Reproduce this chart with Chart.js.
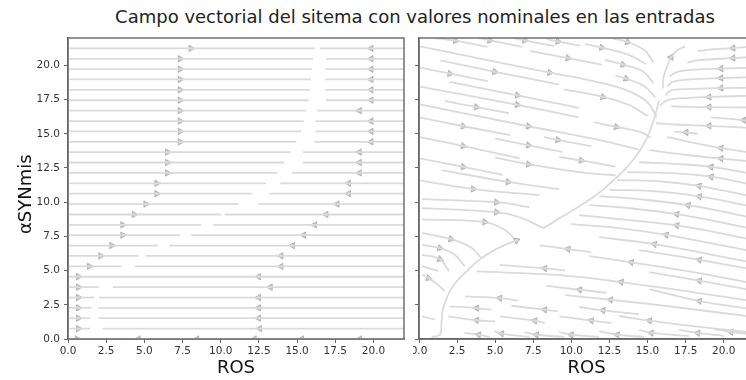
<!DOCTYPE html>
<html>
<head>
<meta charset="utf-8">
<script src="https://cdn.jsdelivr.net/npm/chart.js@4/dist/chart.umd.min.js"></script>
<style>
  html, body { margin: 0; padding: 0; background: #fff; overflow: hidden; }
  body { width: 746px; height: 380px; position: relative; }
  #title { position: absolute; left: 0; top: 6px; width: 830px; text-align: center;
           font: 18px 'DejaVu Sans'; color: #222; white-space: nowrap; }
  #left { position: absolute; left: 0; top: 0; }
  #right { position: absolute; left: 413px; top: 0; }
</style>
</head>
<body>
<div id="title">Campo vectorial del sitema con valores nominales en las entradas</div>
<canvas id="left" width="410" height="380"></canvas>
<canvas id="right" width="346" height="380"></canvas>
<script>
// ejes
const tickValues = [0, 2.5, 5, 7.5, 10, 12.5, 15, 17.5, 20];
const xLabel = 'ROS';
const yLabel = 'αSYNmis';

// panel izquierdo: lineas horizontales, hueco donde cambia el sentido
const levelY = [0.0, 0.76, 1.52, 2.28, 3.03, 3.79, 4.55, 5.31, 6.07, 6.83, 7.59, 8.34, 9.10, 9.86, 10.62,
  11.38, 12.14, 12.90, 13.66, 14.41, 15.17, 15.93, 16.69, 17.45, 18.21, 18.97, 19.72, 20.48, 21.24];
const gapFrom = [null, 1.44, 1.44, 1.55, 1.73, 2.03, null, 3.48, 4.61, 5.88, 7.34, 8.70, 10.01, 11.17, 12.04,
  12.96, 13.68, 14.16, 14.56, 14.95, 15.25, 15.43, 15.60, 15.75, 15.85, 15.90, 15.98, 16.04, 16.15];
const gapTo = [null, 2.27, 1.99, 1.99, 2.03, 2.93, null, 4.39, 5.11, 6.62, 8.07, 9.53, 10.25, 12.48, 13.20,
  13.90, 14.67, 15.39, 15.39, 16.13, 16.20, 16.20, 16.30, 16.90, 16.85, 16.85, 16.85, 16.90, 16.48];
const arrowRightX = [0.60, 0.68, 0.68, 0.68, 0.68, 0.68, 0.68, 1.40, 2.14, 2.86, 3.58, 3.58, 4.33, 5.09, 5.81,
  5.81, 6.51, 6.51, 6.51, 7.34, 7.34, 7.34, 7.34, 7.34, 7.34, 7.34, 7.34, 7.34, 8.04];
const arrowLeftX = [4.60, 12.55, 12.48, 12.48, 12.48, 13.25, 12.48, 13.95, 13.95, 14.71, 15.43, 16.15, 16.90, 17.62, 18.38,
  18.38, 19.08, 19.08, 19.08, 19.85, 19.85, 19.85, 19.08, 19.85, 19.85, 19.85, 19.85, 19.85, 19.85];
const bottomLeftArrowX = [8.44, 12.2, 15.3, 19.1];

// panel derecho: lineas de corriente (x, y)
const rightLines = [
  [[1.0,22.0],[2.4,21.8],[4.5,21.35]],
  [[3.9,22.0],[4.65,21.82],[6.8,21.35]],
  [[6.2,22.0],[6.94,21.83],[8.9,21.4]],
  [[8.4,21.92],[9.13,21.75],[10.6,21.42]],
  [[10.9,21.55],[12.0,21.3],[13.8,20.75],[14.9,20.1]],
  [[12.6,22.0],[13.7,21.7],[14.8,21.1],[15.4,20.2]],
  [[7.3,21.05],[9.78,20.53],[12.0,20.05]],
  [[12.2,20.4],[13.39,20.05],[14.7,19.55],[15.4,18.7]],
  [[12.9,19.25],[13.6,19.03],[14.8,18.47],[15.5,17.66]],
  [[0.05,21.39],[4.0,20.5],[8.58,19.47],[11.8,18.76],[13.8,18.1],[15.0,17.3],[15.6,16.2]],
  [[1.4,20.36],[4.98,19.53],[9.2,18.6]],
  [[0.05,19.85],[2.03,19.39],[4.5,18.85]],
  [[2.0,18.8],[6.46,17.81],[10.5,16.9]],
  [[9.5,18.25],[12.08,17.69],[13.8,17.1],[15.0,16.3]],
  [[0.05,18.45],[6.46,17.12],[10.5,16.2]],
  [[1.7,17.4],[3.77,16.95],[5.9,16.5]],
  [[0.05,17.15],[7.19,15.55],[11.8,14.55],[14.4,13.85]],
  [[0.05,16.2],[2.91,15.55],[6.0,14.9]],
  [[8.2,14.75],[9.12,14.55],[11.3,14.1]],
  [[11.5,15.85],[12.96,15.5],[14.6,15.1],[15.2,14.7]],
  [[0.05,14.75],[2.91,14.1],[6.6,13.2]],
  [[5.0,14.65],[7.19,14.16],[9.4,13.68]],
  [[9.2,13.3],[10.65,13.05],[12.9,12.6]],
  [[0.05,13.21],[2.91,12.58],[5.5,12.0]],
  [[5.0,13.25],[7.19,12.77],[10.5,12.2],[12.9,11.95]],
  [[1.5,12.35],[5.85,11.48],[9.2,10.95]],
  [[0.05,11.6],[3.56,10.96],[7.9,10.52]],
  [[0.2,10.22],[5.09,10.0],[7.25,9.64]],
  [[0.2,9.56],[5.09,9.27],[6.6,8.9],[8.17,8.1]],
  [[0.2,8.75],[4.32,8.55],[5.6,8.0],[6.2,7.4]],
  [[0.2,7.75],[2.1,7.3],[3.4,6.7],[4.1,5.9]],
  [[0.2,6.88],[1.37,6.64],[2.3,6.2],[3.0,5.33]],
  [[0.2,6.15],[1.37,5.84],[1.96,4.96]],
  [[0.2,5.33],[1.27,4.96]],
  [[0.2,4.69],[0.62,4.45],[1.2,4.0],[1.7,3.48]],
  [[0.2,1.66],[1.06,1.41]],
  [[0.83,0.15],[1.37,0.31],[1.48,1.29],[1.59,2.26],[2.14,3.72],[3.01,4.82],[4.11,5.91],[5.42,6.77],[6.51,7.25]],
  // variedad central
  [[16.03,18.3],[16.03,19.05],[16.29,19.93],[16.55,20.58],[16.94,21.09],[17.47,21.39]],
  [[15.76,17.45],[15.5,16.35],[15.17,15.26],[14.78,14.31],[14.19,13.28],[13.47,12.34],[12.62,11.46],
   [11.7,10.58],[10.52,9.71],[9.35,8.91],[8.17,8.1]],
  // arriba a la derecha, hacia la izquierda
  [[18.3,21.05],[19.4,21.18],[20.61,21.26],[21.4,21.33],[22.0,21.36]],
  [[17.6,20.2],[18.4,20.38],[20.61,20.53],[22.0,20.62]],
  [[16.42,19.2],[17.07,19.56],[18.38,19.71],[19.82,19.76],[22.0,19.84]],
  [[16.29,18.47],[16.75,18.83],[18.38,19.01],[19.82,19.07],[22.0,19.14]],
  [[16.16,17.81],[16.55,18.18],[18.38,18.3],[19.82,18.34],[22.0,18.38]],
  [[15.83,17.08],[16.29,17.45],[17.73,17.63],[19.04,17.69],[22.0,17.79]],
  [[16.55,17.01],[17.73,16.97],[19.04,16.95],[22.0,16.92]],
  [[19.17,16.2],[21.3,16.0],[22.0,15.93]],
  [[15.56,15.77],[17.07,15.66],[19.04,15.58],[22.0,15.42]],
  [[16.75,15.15],[17.53,15.1],[18.3,15.0]],
  [[16.29,14.75],[19.82,13.95],[22.0,13.6]],
  [[15.11,13.8],[17.73,13.43],[19.82,13.19],[22.0,12.95]],
  [[14.45,12.92],[17.07,12.78],[19.17,12.58],[22.0,12.05]],
  [[13.67,12.2],[16.42,12.13],[19.17,11.86],[22.0,11.25]],
  [[13.01,11.61],[15.76,11.53],[18.38,11.19],[22.0,10.38]],
  // abajo a la derecha
  [[12.5,10.9],[15.11,10.82],[18.4,10.42],[22.0,9.65]],
  [[11.83,10.44],[14.45,10.22],[17.66,9.78],[22.0,8.85]],
  [[11.18,9.78],[13.8,9.56],[16.92,9.12],[22.0,8.05]],
  [[10.52,9.05],[12.49,8.84],[16.92,8.3],[22.0,7.25]],
  [[9.99,8.4],[13.14,8.1],[16.22,7.61],[22.0,6.38]],
  [[11.83,7.45],[15.45,6.93],[22.0,5.57]],
  [[7.9,6.85],[9.78,6.57],[11.3,6.35]],
  [[11.18,6.06],[13.93,5.6],[18.38,4.82],[22.0,4.04]],
  [[14.45,6.5],[18.4,5.79],[22.0,5.06]],
  [[5.3,5.42],[8.25,5.16],[9.6,5.02]],
  [[3.8,4.94],[9.2,4.67],[13.27,4.16],[18.38,3.36],[22.0,2.75]],
  [[15.11,4.89],[18.4,4.26],[22.0,3.53]],
  [[8.36,3.89],[10.54,3.6],[12.3,3.38]],
  [[3.01,3.12],[5.3,2.99],[6.51,2.8]],
  [[9.6,3.2],[12.57,2.87],[18.38,2.12],[22.0,1.6]],
  [[15.11,3.65],[18.4,2.77],[22.0,2.16]],
  [[2.03,2.39],[3.78,2.26],[4.76,2.14]],
  [[6.07,2.43],[8.25,2.14],[9.13,2.02]],
  [[10.52,2.34],[12.08,2.09],[14.45,1.82]],
  [[1.93,1.66],[3.78,1.37],[4.98,1.29]],
  [[5.3,1.66],[7.6,1.34],[8.25,1.17]],
  [[9.23,1.66],[11.31,1.34],[12.62,1.17]],
  [[13.14,1.68],[15.13,1.34],[18.38,0.88],[22.0,0.45]],
  [[2.99,0.44],[3.91,0.31],[4.63,0.15]],
  [[4.95,0.58],[5.42,0.39],[7.25,0.15]],
  [[6.92,0.51],[7.7,0.31],[9.54,0.15]],
  [[9.21,0.51],[9.99,0.31],[11.83,0.15]],
  [[11.83,0.58],[13.01,0.31],[14.78,0.15]],
  [[14.45,0.66],[15.24,0.44],[17.73,0.22]],
  [[17.07,0.66],[18.3,0.44],[20.02,0.22]],
  [[19.36,0.73],[20.48,0.51],[22.0,0.33]]
];

// flechas del panel derecho: x, y, sentido (grados)
const rightArrows = [
  [2.4,21.8,100],[4.65,21.82,100],[6.94,21.83,100],[9.13,21.75,100],[12.0,21.3,103],[13.7,21.7,110],
  [9.78,20.53,100],[13.39,20.05,105],[13.6,19.03,110],[8.58,19.47,100],[4.98,19.53,100],[2.03,19.39,100],
  [6.46,17.81,100],[12.08,17.69,105],[6.46,17.12,100],[3.77,16.95,100],[7.19,15.55,100],[2.91,15.55,100],
  [9.12,14.55,100],[12.96,15.5,102],[2.91,14.1,100],[7.19,14.16,100],[10.65,13.05,100],[2.91,12.58,100],
  [7.19,12.77,98],[5.85,11.48,98],[3.56,10.96,95],[5.09,10.0,95],[5.09,9.27,95],[4.32,8.55,95],
  [2.1,7.3,105],[1.37,6.64,105],[1.37,5.84,110],[0.62,4.45,110],[6.4,7.2,68],[16.55,20.6,30],
  [20.61,21.26,-93],[20.61,20.53,-93],[19.82,19.76,-93],[19.82,19.07,-93],[19.82,18.34,-93],[19.04,17.69,-93],
  [19.04,16.95,-90],[21.3,16.0,-85],[19.04,15.58,-88],[17.53,15.1,-88],[19.82,13.95,-82],[19.82,13.19,-83],
  [19.17,12.58,-82],[19.17,11.86,-80],[18.38,11.19,-79],
  [18.4,10.42,-79],[17.66,9.78,-79],[16.92,9.12,-79],[16.92,8.3,-79],[16.22,7.61,-79],[15.45,6.93,-79],
  [9.78,6.57,-83],[13.93,5.6,-80],[18.4,5.79,-80],[8.25,5.16,-84],[13.27,4.16,-81],[18.4,4.26,-80],
  [10.54,3.6,-82],[5.3,2.99,-84],[12.57,2.87,-82],[18.4,2.77,-80],[3.78,2.26,-85],[8.25,2.14,-82],
  [12.08,2.09,-84],[3.78,1.37,-82],[7.6,1.34,-82],[11.31,1.34,-82],[15.13,1.34,-82],
  [3.91,0.31,-80],[5.42,0.39,-82],[7.7,0.31,-82],[9.99,0.31,-82],[13.01,0.31,-82],[15.24,0.44,-84],
  [18.3,0.44,-84],[20.48,0.51,-84]
];

const FONT = "'DejaVu Sans', sans-serif";
const LINE_COLOR = '#dadada';
const AXIS_COLOR = '#666666';

function streamline(points, curved) {
  return {
    type: 'line',
    data: points.map(p => ({x: p[0], y: p[1]})),
    borderColor: LINE_COLOR,
    borderWidth: 1.8,
    pointRadius: 0,
    tension: curved ? 0.4 : 0,
    fill: false
  };
}

function arrows(list) {
  return {
    type: 'scatter',
    data: list.map(a => ({x: a[0], y: a[1]})),
    pointStyle: 'triangle',
    rotation: list.map(a => a[2]),
    pointRadius: 3.7,
    backgroundColor: '#cdcdcd',
    borderColor: '#a6a6a6',
    borderWidth: 0.8
  };
}

// marco completo alrededor del area
const framePlugin = {
  id: 'frame',
  afterDraw(chart) {
    const {ctx, chartArea: a} = chart;
    ctx.save();
    ctx.strokeStyle = AXIS_COLOR;
    ctx.lineWidth = 1.4;
    ctx.strokeRect(a.left, a.top, a.right - a.left, a.bottom - a.top);
    ctx.restore();
  }
};

function axes(yWidth, showYLabels) {
  const setTicks = scale => { scale.ticks = tickValues.map(v => ({value: v})); };
  return {
    x: {
      type: 'linear', min: 0, max: 22, position: 'bottom',
      afterBuildTicks: setTicks,
      afterFit: s => { s.height = 41; s.paddingLeft = 0; s.paddingRight = 0; },
      ticks: {callback: v => v.toFixed(1), autoSkip: false, maxRotation: 0, padding: 2,
              color: '#333', font: {family: FONT, size: 10.5}},
      grid: {drawOnChartArea: false, tickLength: 4, tickColor: AXIS_COLOR},
      border: {color: AXIS_COLOR, width: 1.4},
      title: {display: true, text: xLabel, color: '#111', font: {family: FONT, size: 18},
              padding: {top: 0, bottom: 1}}
    },
    y: {
      type: 'linear', min: 0, max: 22,
      afterBuildTicks: setTicks,
      afterFit: s => { s.width = yWidth; s.paddingTop = 0; s.paddingBottom = 0; },
      ticks: {callback: v => showYLabels ? v.toFixed(1) : '', autoSkip: false, padding: 4,
              color: '#333', font: {family: FONT, size: 10.5}},
      grid: {drawOnChartArea: false, tickLength: 4, tickColor: AXIS_COLOR},
      border: {color: AXIS_COLOR, width: 1.4},
      // dos espacios al final bajan un poco la etiqueta, como en la figura
      title: {display: showYLabels, text: yLabel + '  ', color: '#111', font: {family: FONT, size: 18},
              padding: {top: 16, bottom: 0}}
    }
  };
}

// panel izquierdo
const leftSets = [];
levelY.forEach((y, k) => {
  if (gapFrom[k] === null) {
    leftSets.push(streamline([[0, y], [22, y]], false));
  } else {
    leftSets.push(streamline([[0, y], [gapFrom[k], y]], false));
    leftSets.push(streamline([[gapTo[k], y], [22, y]], false));
  }
});
leftSets.push(arrows(levelY.map((y, k) => [arrowRightX[k], y, 90])));
leftSets.push(arrows(levelY.map((y, k) => [arrowLeftX[k], y, -90])
  .concat(bottomLeftArrowX.map(x => [x, 0, -90]))));

new Chart(document.getElementById('left'), {
  data: {datasets: leftSets},
  options: {
    responsive: false, animation: false, events: [],
    layout: {padding: {left: 0, top: 38, right: 6, bottom: 0}},
    plugins: {legend: {display: false}, tooltip: {enabled: false}},
    scales: axes(68, true)
  },
  plugins: [framePlugin]
});

// panel derecho
const rightSets = rightLines.map(pts => streamline(pts, true));
rightSets.push(arrows(rightArrows));

new Chart(document.getElementById('right'), {
  data: {datasets: rightSets},
  options: {
    responsive: false, animation: false, events: [],
    layout: {padding: {left: 0, top: 38, right: 4, bottom: 0}},
    plugins: {legend: {display: false}, tooltip: {enabled: false}},
    scales: axes(6, false)
  },
  plugins: [framePlugin]
});
</script>
</body>
</html>
